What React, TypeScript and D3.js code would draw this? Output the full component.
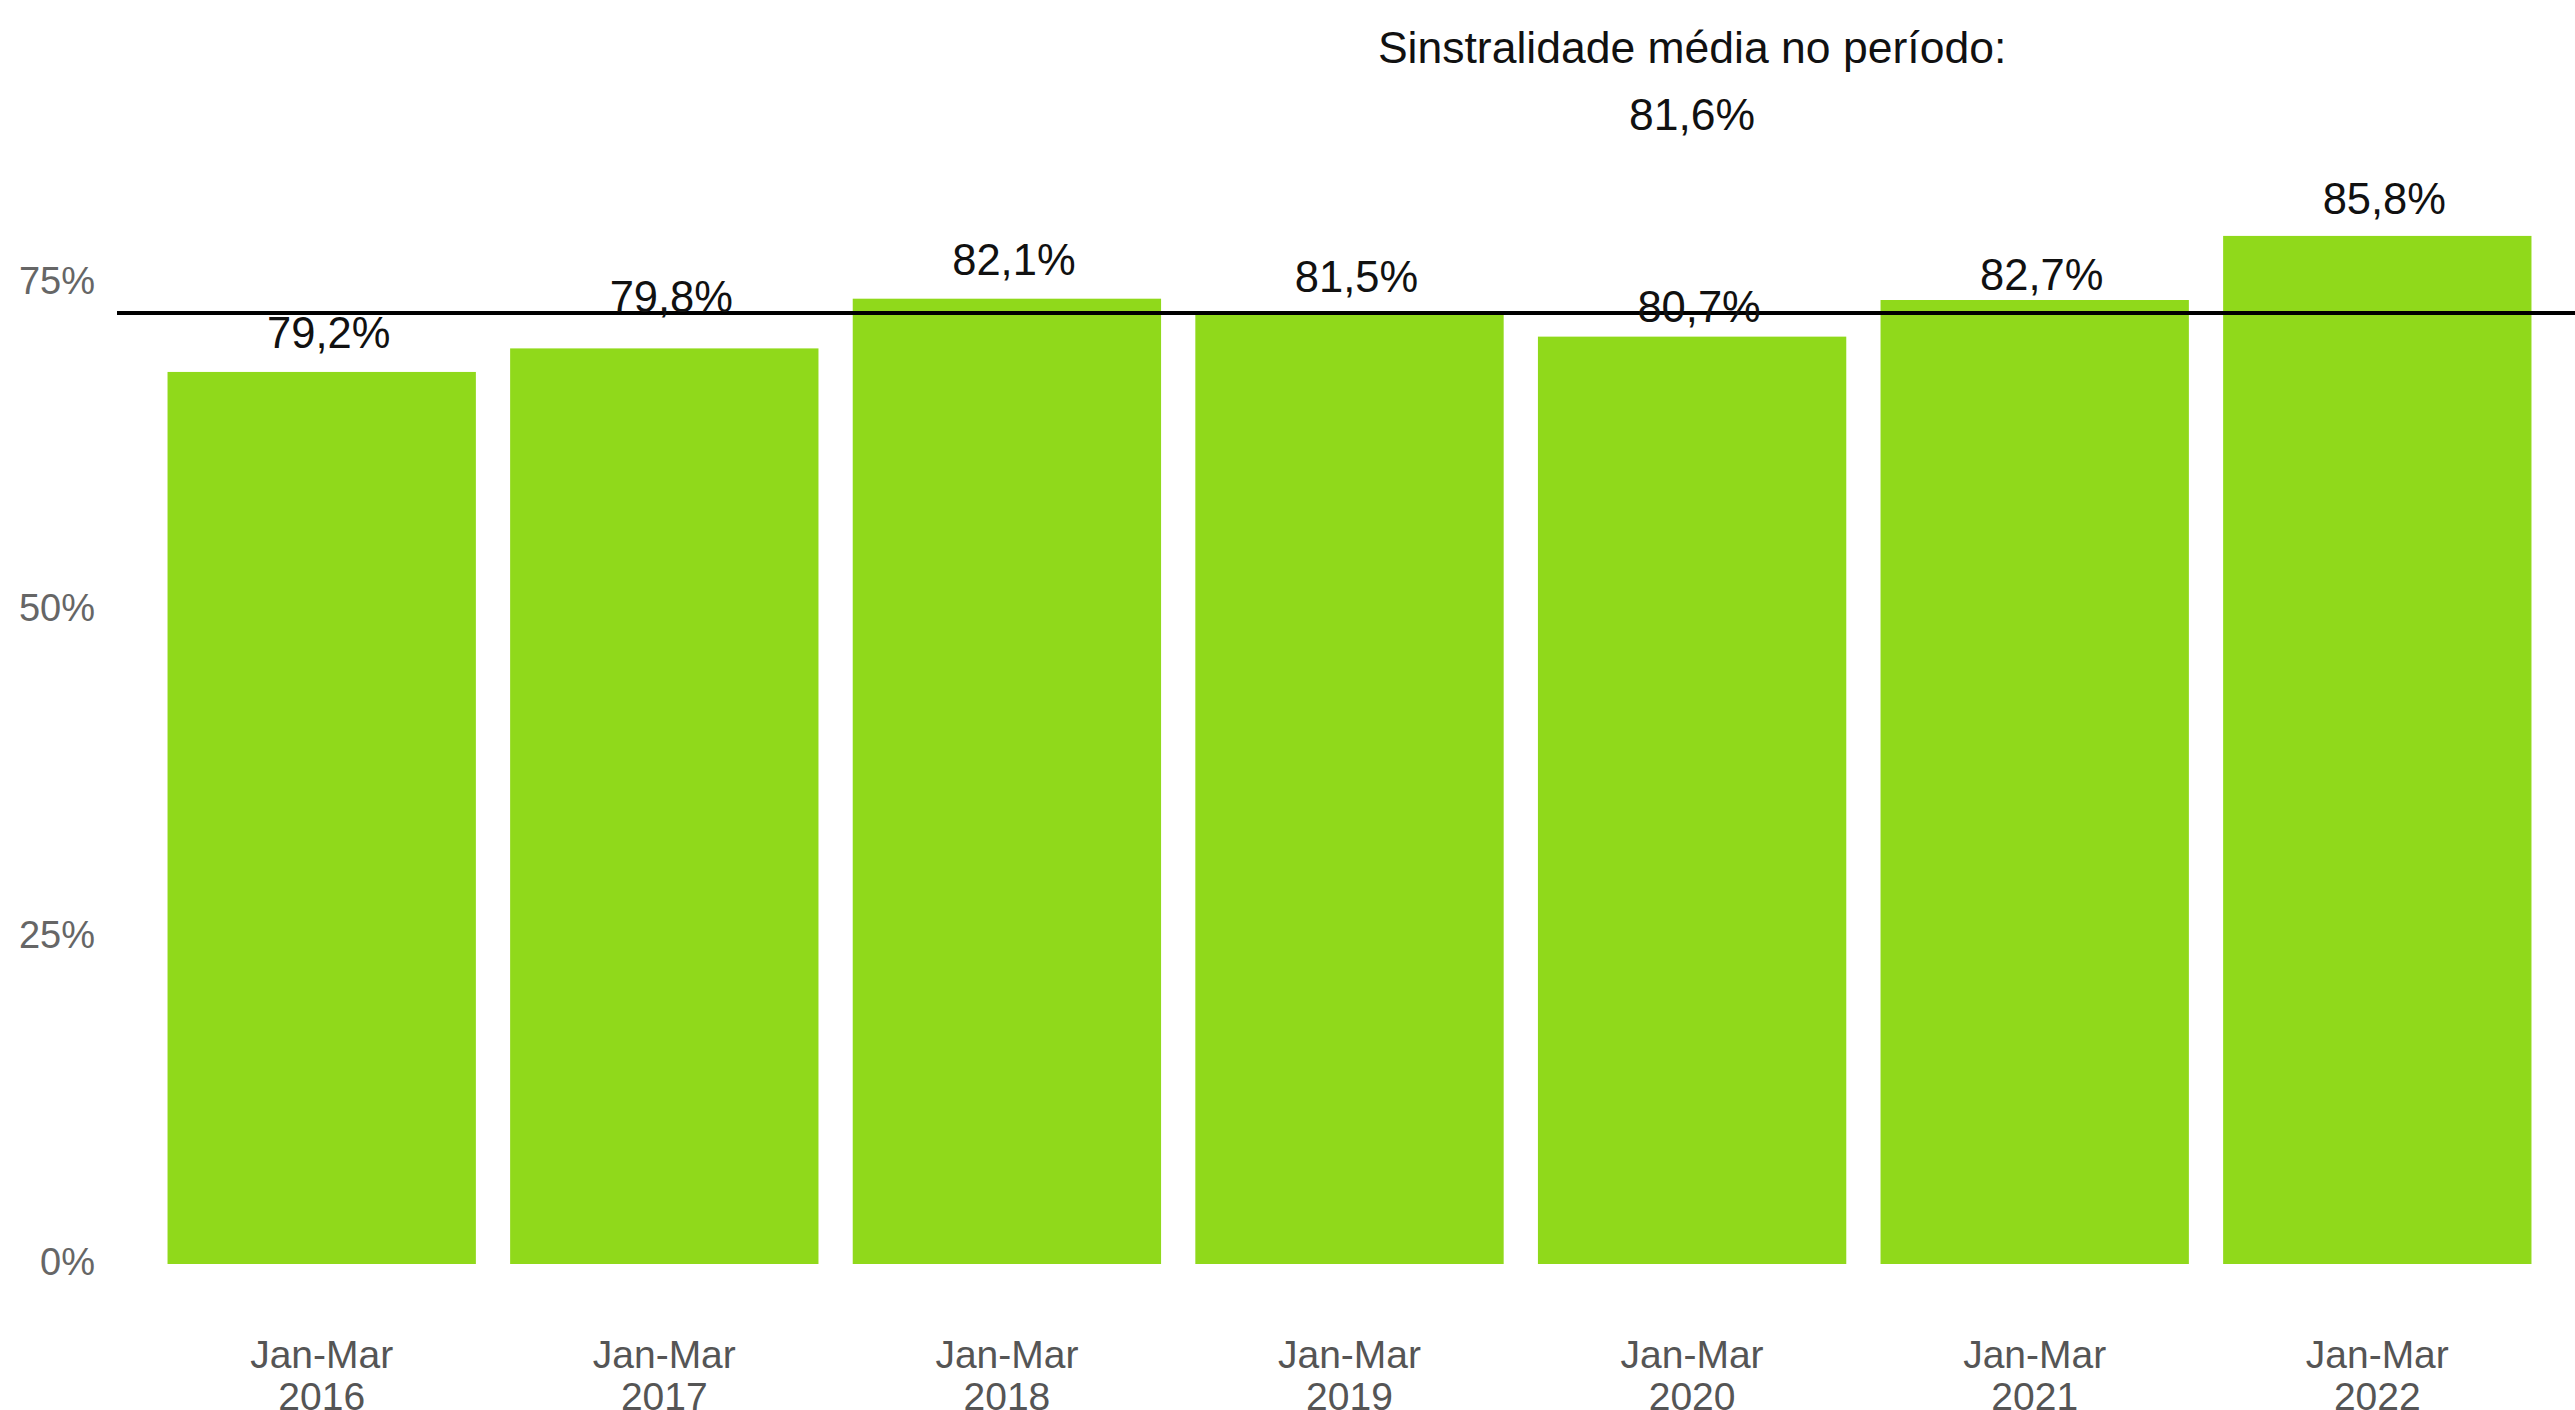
import React, { useEffect } from "react";
import * as d3 from "d3";

// ---- data ----
const periods = ["Jan-Mar", "Jan-Mar", "Jan-Mar", "Jan-Mar", "Jan-Mar", "Jan-Mar", "Jan-Mar"];
const years = ["2016", "2017", "2018", "2019", "2020", "2021", "2022"];
// bar heights as drawn (in % on the axis)
const barValues = [68.2, 70.0, 73.8, 72.6, 70.9, 73.7, 78.6];
// printed labels
const valueLabels = ["79,2%", "79,8%", "82,1%", "81,5%", "80,7%", "82,7%", "85,8%"];
// level (in axis %) at which each printed label sits
const labelLevels = [70.0, 72.8, 75.6, 74.3, 72.0, 74.5, 80.3];
// average line level (in axis %) and its caption
const averageLevel = 72.7;
const averageTitle = "Sinstralidade média no período:";
const averageText = "81,6%";
const yTicks = [0, 25, 50, 75];

const W = 2575;
const H = 1410;
const FONT = "'Liberation Sans', Arial, Helvetica, sans-serif";
const GREEN = "#90d91b";

export default function App() {
  useEffect(() => {
    document.body.style.margin = "0";
    document.body.style.overflow = "hidden";
  }, []);

  const keys = years.map((y, i) => `${periods[i]} ${y}`);
  const x = d3.scaleBand<string>().domain(keys).range([150.4, 2548.6]).paddingInner(0.1).paddingOuter(0.05);
  const y = d3.scaleLinear().domain([0, 75]).range([1264, 283]);
  const titleX = (x(keys[4]) ?? 0) + x.bandwidth() / 2;

  return (
    <div style={{ position: "absolute", left: 0, top: 0, width: W, height: H, background: "#fff" }}>
      <svg width={W} height={H} style={{ display: "block", fontFamily: FONT }}>
        <rect x={0} y={0} width={W} height={H} fill="#fff" />
        {/* y tick labels */}
        {yTicks.map((t) => (
          <text key={t} x={95} y={y(t) + 11} textAnchor="end" fontSize={38} fill="#666">
            {d3.format("d")(t)}%
          </text>
        ))}
        {/* bars */}
        {keys.map((k, i) => (
          <rect
            key={k}
            x={x(k)}
            y={y(barValues[i])}
            width={x.bandwidth()}
            height={y(0) - y(barValues[i])}
            fill={GREEN}
          />
        ))}
        {/* average line */}
        <line x1={117} x2={W} y1={y(averageLevel)} y2={y(averageLevel)} stroke="#000" strokeWidth={4} />
        {/* value labels */}
        {keys.map((k, i) => (
          <text
            key={"l" + k}
            x={(x(k) ?? 0) + x.bandwidth() / 2 + 7}
            y={y(labelLevels[i])}
            textAnchor="middle"
            fontSize={43.5}
            fill="#111"
          >
            {valueLabels[i]}
          </text>
        ))}
        {/* x axis labels */}
        {keys.map((k, i) => (
          <text key={"x" + k} textAnchor="middle" fontSize={39} fill="#555">
            <tspan x={(x(k) ?? 0) + x.bandwidth() / 2} y={1368}>{periods[i]}</tspan>
            <tspan x={(x(k) ?? 0) + x.bandwidth() / 2} y={1410}>{years[i]}</tspan>
          </text>
        ))}
        {/* average caption */}
        <text x={titleX} y={63} textAnchor="middle" fontSize={44.5} fill="#111">
          {averageTitle}
        </text>
        <text x={titleX} y={130} textAnchor="middle" fontSize={44.5} fill="#111">
          {averageText}
        </text>
      </svg>
    </div>
  );
}
